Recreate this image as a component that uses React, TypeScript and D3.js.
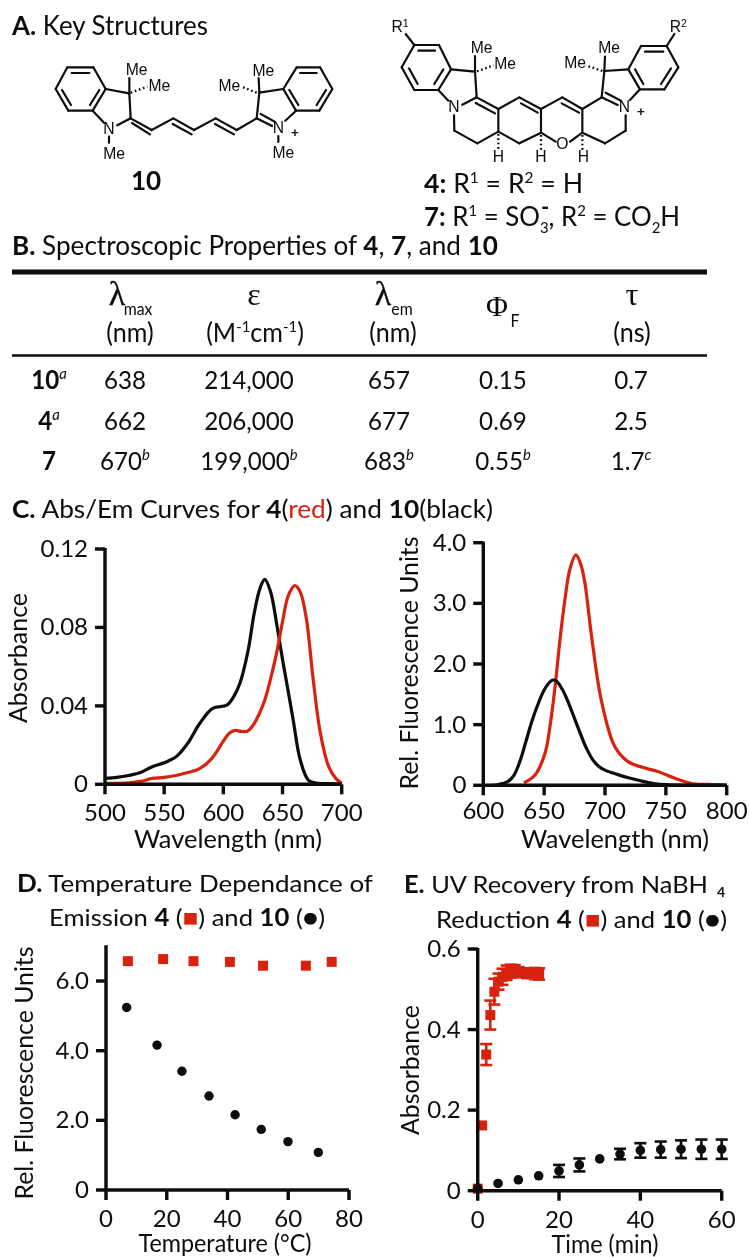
import { curveCatmullRom, line, scaleLinear } from "d3";
import type { ReactNode } from "react";

const FONT = "Lato, 'Open Sans', sans-serif";
const RED = "#d8230f";
const BLACK = "#0a0a0a";

// panel C left, absorbance
const absWave10 = [500, 510, 520, 530, 540, 550, 560, 570, 580, 591, 603, 609, 614, 621, 626, 631, 635, 640, 645, 650, 655, 659, 665, 672, 680, 690, 700];
const absVal10 = [0.003, 0.0035, 0.0045, 0.006, 0.009, 0.011, 0.014, 0.021, 0.031, 0.0387, 0.0404, 0.045, 0.0515, 0.0685, 0.087, 0.1, 0.1045, 0.098, 0.082, 0.0637, 0.0467, 0.0328, 0.0124, 0.002, 0.0005, 0.0003, 0.0003];
const absWave4 = [500, 520, 530, 540, 550, 560, 570, 580, 590, 600, 605, 610, 615, 620, 625, 630, 635, 640, 645, 650, 655, 660.5, 665, 670, 676, 682, 689, 695, 700];
const absVal4 = [0.0005, 0.0008, 0.0015, 0.003, 0.0035, 0.0045, 0.006, 0.008, 0.013, 0.022, 0.026, 0.0275, 0.027, 0.027, 0.03, 0.0355, 0.043, 0.054, 0.067, 0.083, 0.0965, 0.1013, 0.098, 0.085, 0.053, 0.026, 0.009, 0.003, 0.0005];

// panel C right, emission
const emWave10 = [607, 612, 620, 625, 630, 635, 640, 645, 650, 655, 657.5, 660, 665, 670, 675, 680, 685, 690, 695, 700, 710, 720, 730, 740, 750, 770, 800];
const emVal10 = [0, 0.01, 0.06, 0.16, 0.39, 0.72, 1.06, 1.34, 1.57, 1.71, 1.736, 1.72, 1.58, 1.36, 1.1, 0.84, 0.6, 0.42, 0.31, 0.25, 0.18, 0.12, 0.07, 0.03, 0.01, 0, 0];
const emWave4 = [633.4, 642.5, 650.7, 655, 659, 663, 667, 671, 676, 680, 683.5, 689, 697, 708, 719, 730, 744, 757.5, 771, 785, 800];
const emVal4 = [0.04, 0.17, 0.53, 1.0, 1.63, 2.4, 3.05, 3.55, 3.8, 3.65, 3.33, 2.45, 1.4, 0.64, 0.39, 0.3, 0.225, 0.115, 0.03, 0.015, 0.005];

// panel D
const tempX4 = [7.2, 18.8, 28.8, 40.8, 51.7, 65.8, 74.3];
const tempY4 = [6.57, 6.63, 6.57, 6.55, 6.44, 6.44, 6.55];
const tempX10 = [6.8, 16.8, 25, 33.9, 42.5, 51.1, 59.9, 69.9];
const tempY10 = [5.24, 4.16, 3.41, 2.7, 2.16, 1.74, 1.39, 1.08];

// panel E
const timeX4 = [0, 1.1, 2.1, 3.1, 4.1, 5.1, 6.1, 7.1, 8.1, 9.1, 10.1, 11.1, 12.1, 13.1, 14.1, 15.1];
const timeY4 = [0.005, 0.162, 0.338, 0.436, 0.494, 0.519, 0.531, 0.541, 0.545, 0.545, 0.543, 0.541, 0.54, 0.54, 0.539, 0.538];
const timeE4 = [0, 0, 0.026, 0.036, 0.032, 0.02, 0.02, 0.018, 0.016, 0.015, 0.012, 0.01, 0.012, 0.012, 0.014, 0.014];
const timeX10 = [0, 5, 10, 15, 20, 25, 30, 35, 40, 45, 50, 55, 60];
const timeY10 = [0.006, 0.018, 0.027, 0.037, 0.049, 0.064, 0.079, 0.091, 0.1, 0.102, 0.103, 0.103, 0.103];
const timeE10 = [0, 0, 0, 0, 0.015, 0.016, 0, 0.013, 0.018, 0.02, 0.022, 0.024, 0.024];

// table
const rowNames = ["10", "4", "7"];
const rowNameMarks = ["a", "a", ""];
const colX = [125, 249, 389, 503, 631];
const tableRows = [
  ["638", "214,000", "657", "0.15", "0.7"],
  ["662", "206,000", "677", "0.69", "2.5"],
  ["670", "199,000", "683", "0.55", "1.7"],
];
const tableMarks = [
  ["", "", "", "", ""],
  ["", "", "", "", ""],
  ["b", "b", "b", "b", "c"],
];
const rowBase = [389, 430, 470];

// structure drawings, in 3x px of their crop
const cy10Bonds = [
  [82, 52, 160, 52], [160, 52, 197, 117], [197, 117, 158, 182], [158, 182, 85, 182], [85, 182, 47, 117], [47, 117, 82, 52],
  [95, 69, 148, 69], [178, 120, 150, 165], [93, 165, 66, 120],
  [197, 117, 268, 130], [268, 130, 272, 205], [268, 130, 268, 84], [272, 205, 232, 226], [158, 182, 192, 218],
  [272, 205, 335, 240], [276, 219, 330, 253], [335, 240, 400, 205], [400, 205, 462, 240], [398, 222, 455, 253],
  [462, 240, 527, 205], [527, 205, 590, 240], [525, 222, 582, 253], [590, 240, 650, 205],
  [650, 205, 696, 228], [662, 192, 704, 215], [650, 205, 658, 128], [658, 128, 730, 117], [658, 128, 656, 84],
  [730, 117, 770, 52], [770, 52, 840, 52], [840, 52, 877, 117], [877, 117, 838, 182], [838, 182, 768, 182], [768, 182, 730, 117],
  [780, 69, 830, 69], [858, 120, 830, 165], [748, 120, 775, 165], [768, 182, 736, 212],
  [207, 260, 207, 278], [715, 258, 715, 276],
];
const cy10Hash = [[272, 128, 322, 110], [650, 128, 604, 110]];
const cy10Text: [string, number, number][] = [["Me", 290, 75], ["Me", 358, 122], ["N", 207, 251], ["Me", 222, 327], ["Me", 670, 78], ["Me", 568, 122], ["N", 715, 250], ["Me", 730, 325]];

const cy4Bonds = [
  [88, 105, 162, 105], [162, 105, 198, 178], [198, 178, 160, 240], [160, 240, 88, 240], [88, 240, 50, 172], [50, 172, 88, 105],
  [100, 122, 150, 122], [175, 178, 148, 222], [98, 222, 72, 175], [88, 105, 62, 72],
  [198, 178, 270, 185], [270, 185, 275, 262], [270, 185, 270, 138], [160, 240, 190, 272], [275, 262, 232, 284],
  [275, 262, 340, 297], [272, 279, 330, 310], [340, 297, 403, 262], [403, 262, 468, 297], [408, 280, 458, 308],
  [468, 297, 532, 262], [532, 262, 592, 297], [530, 280, 582, 308], [592, 297, 650, 262],
  [340, 297, 340, 365], [468, 297, 468, 368], [592, 297, 592, 368],
  [340, 365, 403, 400], [403, 400, 468, 368], [468, 368, 512, 395], [555, 395, 592, 368],
  [340, 365, 277, 400], [277, 400, 208, 362], [208, 362, 207, 316],
  [592, 368, 660, 400], [660, 400, 722, 362], [722, 362, 722, 316],
  [650, 262, 698, 285], [662, 248, 708, 272], [650, 262, 658, 183], [658, 183, 730, 178], [658, 183, 660, 140],
  [730, 178, 768, 108], [768, 108, 845, 108], [845, 108, 880, 172], [880, 172, 838, 238], [838, 238, 765, 238], [765, 238, 730, 178],
  [780, 125, 835, 125], [858, 175, 828, 222], [750, 178, 775, 222], [765, 238, 735, 270], [845, 108, 868, 72],
];
const cy4Hash = [[276, 184, 326, 166], [652, 183, 602, 166], [340, 372, 340, 420], [468, 375, 468, 420], [592, 375, 592, 420]];
const cy4Text: [string, number, number][] = [["Me", 290, 130], ["Me", 360, 178], ["N", 207, 307], ["H", 340, 456], ["H", 468, 456], ["H", 595, 456], ["O", 532, 418], ["N", 718, 305], ["Me", 672, 130], ["Me", 570, 175]];

function Structure({ x, y, bonds, hashes, labels, children }: { x: number; y: number; bonds: number[][]; hashes: number[][]; labels: [string, number, number][]; children?: ReactNode }) {
  return (
    <g transform={`translate(${x},${y}) scale(${1 / 3})`} stroke={BLACK} fill="none" strokeLinecap="round">
      {bonds.map((b, i) => <line key={i} x1={b[0]} y1={b[1]} x2={b[2]} y2={b[3]} strokeWidth={6.5} />)}
      {hashes.map((b, i) => <line key={i} x1={b[0]} y1={b[1]} x2={b[2]} y2={b[3]} strokeWidth={7} strokeDasharray="5 8" strokeLinecap="butt" />)}
      <g fontFamily="'Liberation Sans', sans-serif" fontSize={47} fill={BLACK} stroke="none" textAnchor="middle">
        {labels.map((t, i) => <text key={i} x={t[1]} y={t[2]}>{t[0]}</text>)}
        {children}
      </g>
    </g>
  );
}

function Panel({ xDomain, xRange, yDomain, yRange, xTicks, yTicks, xLabels, yLabels, labelDy = 37, children }: {
  xDomain: number[]; xRange: number[]; yDomain: number[]; yRange: number[]; xTicks: number[]; yTicks: number[]; xLabels: string[]; yLabels: string[]; labelDy?: number;
  children: (x: any, y: any) => ReactNode;
}) {
  const x = scaleLinear().domain(xDomain).range(xRange);
  const y = scaleLinear().domain(yDomain).range(yRange);
  return (
    <g>
      {children(x, y)}
      <g stroke={BLACK} strokeWidth={3.4} fill="none">
        <line x1={x(xDomain[0])} x2={x(xDomain[1])} y1={y(0)} y2={y(0)} />
        <line x1={x(xDomain[0])} x2={x(xDomain[0])} y1={y(0) + 1} y2={y(yDomain[1]) - 1} />
        {xTicks.map((t) => <line key={t} x1={x(t)} x2={x(t)} y1={y(0)} y2={y(0) + 10} />)}
        {yTicks.map((t) => <line key={t} x1={x(xDomain[0]) - 10} x2={x(xDomain[0])} y1={y(t)} y2={y(t)} />)}
      </g>
      <g fontFamily={FONT} fontSize={24} fill={BLACK}>
        {xTicks.map((t, i) => <text key={t} x={x(t)} y={y(0) + labelDy} textAnchor="middle">{xLabels[i]}</text>)}
        {yTicks.map((t, i) => <text key={t} x={x(xDomain[0]) - 17} y={y(t) + 8} textAnchor="end">{yLabels[i]}</text>)}
      </g>
    </g>
  );
}

function curve(x: any, y: any, xs: number[], ys: number[]) {
  const pts = xs.map((v, i) => [x(v), y(ys[i])] as [number, number]);
  return line().curve(curveCatmullRom.alpha(0.5))(pts) ?? "";
}

function Title({ x, y, width, size = 24, children }: { x: number; y: number; width?: number; size?: number; children: ReactNode }) {
  return (
    <text x={x} y={y} fontFamily={FONT} fontSize={size} fill={BLACK} textLength={width} lengthAdjust={width ? "spacingAndGlyphs" : undefined}>
      {children}
    </text>
  );
}

function Axis({ x, y, rotate, width, size = 25, children }: { x: number; y: number; rotate?: boolean; width: number; size?: number; children: string }) {
  return (
    <text transform={`translate(${x},${y})${rotate ? " rotate(-90)" : ""}`} textAnchor="middle" fontFamily={FONT} fontSize={size} fill={BLACK} textLength={width} lengthAdjust="spacingAndGlyphs">
      {children}
    </text>
  );
}

// table text is taller and narrower than Lato, so squeeze it a bit
function Cell({ x, y, size = 26, bold, children }: { x: number; y: number; size?: number; bold?: boolean; children: ReactNode }) {
  return <text transform={`translate(${x},${y}) scale(0.93,1)`} textAnchor="middle" fontFamily={FONT} fontSize={size} fontWeight={bold ? 700 : 400} fill={BLACK}>{children}</text>;
}

const B = ({ children }: { children: ReactNode }) => <tspan fontWeight={700}>{children}</tspan>;

export default function App() {
  return (
    <svg width={749} height={1257} style={{ position: "absolute", left: 0, top: 0 }}>
      <defs>
        <filter id="soft" x="0" y="0" width="100%" height="100%">
          <feGaussianBlur stdDeviation={0.5} />
        </filter>
      </defs>
      <rect width={749} height={1257} fill="#fff" />
      <g filter="url(#soft)">
        {/* A */}
        <Title x={12} y={35} width={196} size={26}><B>A.</B> Key Structures</Title>
        <Structure x={40} y={50} bonds={cy10Bonds} hashes={cy10Hash} labels={cy10Text}>
          <text x={765} y={262} fontSize={40} fontWeight={700}>+</text>
        </Structure>
        <text x={146} y={190} textAnchor="middle" fontFamily={FONT} fontSize={26} fontWeight={700} fill={BLACK}>10</text>
        <Structure x={385} y={10} bonds={cy4Bonds} hashes={cy4Hash} labels={cy4Text}>
          <text x={45} y={66}>R<tspan fontSize={32} dy={-16}>1</tspan></text>
          <text x={880} y={66}>R<tspan fontSize={32} dy={-16}>2</tspan></text>
          <text x={768} y={318} fontSize={40} fontWeight={700}>+</text>
        </Structure>
        <Title x={424} y={193} width={159} size={26}><B>4:</B> R<tspan fontSize={15} dy={-10}>1</tspan><tspan dy={10}> = R</tspan><tspan fontSize={15} dy={-10}>2</tspan><tspan dy={10}> = H</tspan></Title>
        <Title x={424} y={226} width={256} size={26}><B>7:</B> R<tspan fontSize={15} dy={-10}>1</tspan><tspan dy={10}> = SO</tspan><tspan fontSize={15} dy={7}>3</tspan><tspan dy={-7}>, R</tspan><tspan fontSize={15} dy={-10}>2</tspan><tspan dy={10}> = CO</tspan><tspan fontSize={15} dy={7}>2</tspan><tspan dy={-7}>H</tspan></Title>
        <text x={541} y={215} fontFamily={FONT} fontSize={22} fontWeight={700} fill={BLACK}>-</text>

        {/* B */}
        <Title x={12} y={255} width={486} size={26}><B>B.</B> Spectroscopic Properties of <B>4</B>, <B>7</B>, and <B>10</B></Title>
        <line x1={12} x2={707} y1={272} y2={272} stroke={BLACK} strokeWidth={5} />
        <line x1={12} x2={707} y1={355.5} y2={355.5} stroke={BLACK} strokeWidth={2.5} />
        <g fontFamily="'Liberation Serif', serif" fill={BLACK} textAnchor="middle">
          <text x={117} y={305} fontSize={34} stroke={BLACK} strokeWidth={0.3}>λ</text>
          <text x={254} y={305} fontSize={32}>ε</text>
          <text x={383} y={305} fontSize={34} stroke={BLACK} strokeWidth={0.3}>λ</text>
          <text x={497} y={316} fontSize={30}>Φ</text>
          <text x={632} y={305} fontSize={32}>τ</text>
        </g>
        <Cell x={138} y={315} size={17}>max</Cell>
        <Cell x={402} y={315} size={17}>em</Cell>
        <Cell x={515} y={327} size={17}>F</Cell>
        <Cell x={130} y={342} size={27}>(nm)</Cell>
        <Cell x={393} y={342} size={27}>(nm)</Cell>
        <Cell x={632} y={342} size={27}>(ns)</Cell>
        <Cell x={255} y={342} size={27}>(M<tspan fontSize={16} dy={-10}>-1</tspan><tspan dy={10}>cm</tspan><tspan fontSize={16} dy={-10}>-1</tspan><tspan dy={10}>)</tspan></Cell>
        {rowNames.map((n, r) => (
          <Cell key={n} x={49} y={rowBase[r]} bold>{n}<tspan fontSize={16} dy={-10} fontWeight={400} fontStyle="italic">{rowNameMarks[r]}</tspan></Cell>
        ))}
        {tableRows.map((row, r) => row.map((v, c) => (
          <Cell key={`${r}-${c}`} x={colX[c]} y={rowBase[r]}>{v}<tspan fontSize={16} dy={-10} fontStyle="italic">{tableMarks[r][c]}</tspan></Cell>
        )))}

        {/* C */}
        <Title x={12} y={518} width={481} size={25}><B>C.</B> Abs/Em Curves for <B>4</B>(<tspan fill={RED}>red</tspan>) and <B>10</B>(black)</Title>
        <Panel xDomain={[500, 700]} xRange={[105, 341.7]} yDomain={[0, 0.12]} yRange={[784.3, 549]} xTicks={[500, 550, 600, 650, 700]} yTicks={[0, 0.04, 0.08, 0.12]} xLabels={["500", "550", "600", "650", "700"]} yLabels={["0", "0.04", "0.08", "0.12"]}>
          {(x, y) => (
            <g fill="none" strokeWidth={3.2}>
              <path d={curve(x, y, absWave10, absVal10)} stroke={BLACK} />
              <path d={curve(x, y, absWave4, absVal4)} stroke={RED} />
            </g>
          )}
        </Panel>
        <Axis x={27} y={658} rotate width={130}>Absorbance</Axis>
        <Axis x={228} y={848} width={188}>Wavelength (nm)</Axis>

        <Panel xDomain={[600, 800]} xRange={[483.3, 726.7]} yDomain={[0, 4]} yRange={[785.3, 542.7]} xTicks={[600, 650, 700, 750, 800]} yTicks={[0, 1, 2, 3, 4]} xLabels={["600", "650", "700", "750", "800"]} yLabels={["0", "1.0", "2.0", "3.0", "4.0"]} labelDy={34}>
          {(x, y) => (
            <g fill="none" strokeWidth={3.2}>
              <path d={curve(x, y, emWave4, emVal4)} stroke={RED} />
              <path d={curve(x, y, emWave10, emVal10)} stroke={BLACK} />
            </g>
          )}
        </Panel>
        <Axis x={418} y={663} rotate width={253}>Rel. Fluorescence Units</Axis>
        <Axis x={615} y={848} width={188}>Wavelength (nm)</Axis>

        {/* D */}
        <Title x={17} y={892} width={356}><B>D.</B> Temperature Dependance of</Title>
        <Title x={49} y={926} width={276}>Emission <B>4</B> (<tspan fill={RED}>■</tspan>) and <B>10</B> (●)</Title>
        <Panel xDomain={[0, 80]} xRange={[106, 349]} yDomain={[0, 7]} yRange={[1190, 946.2]} xTicks={[0, 20, 40, 60, 80]} yTicks={[0, 2, 4, 6]} xLabels={["0", "20", "40", "60", "80"]} yLabels={["0", "2.0", "4.0", "6.0"]}>
          {(x, y) => (
            <g>
              {tempX4.map((v, i) => <rect key={v} x={x(v) - 5} y={y(tempY4[i]) - 5} width={10} height={10} fill={RED} />)}
              {tempX10.map((v, i) => <circle key={v} cx={x(v)} cy={y(tempY10[i])} r={4.7} fill={BLACK} />)}
            </g>
          )}
        </Panel>
        <Axis x={33} y={1073} rotate width={253}>Rel. Fluorescence Units</Axis>
        <Axis x={225} y={1252} width={173}>Temperature (°C)</Axis>

        {/* E */}
        <Title x={404} y={893} width={304}><B>E.</B> UV Recovery from NaBH</Title>
        <text x={721} y={897} textAnchor="middle" fontFamily={FONT} fontWeight={700} fontSize={14} fill={BLACK}>4</text>
        <Title x={436} y={928} width={291}>Reduction <B>4</B> (<tspan fill={RED}>■</tspan>) and <B>10</B> (●)</Title>
        <Panel xDomain={[0, 60]} xRange={[477.7, 721.7]} yDomain={[0, 0.6]} yRange={[1190.7, 949]} xTicks={[0, 20, 40, 60]} yTicks={[0, 0.2, 0.4, 0.6]} xLabels={["0", "20", "40", "60"]} yLabels={["0", "0.2", "0.4", "0.6"]}>
          {(x, y) => (
            <g>
              <g stroke={RED} strokeWidth={2.6}>
                {timeX4.map((v, i) => timeE4[i] > 0 && (
                  <g key={v}>
                    <line x1={x(v)} x2={x(v)} y1={y(timeY4[i] - timeE4[i])} y2={y(timeY4[i] + timeE4[i])} />
                    <line x1={x(v) - 6} x2={x(v) + 6} y1={y(timeY4[i] - timeE4[i])} y2={y(timeY4[i] - timeE4[i])} />
                    <line x1={x(v) - 6} x2={x(v) + 6} y1={y(timeY4[i] + timeE4[i])} y2={y(timeY4[i] + timeE4[i])} />
                  </g>
                ))}
              </g>
              {timeX4.map((v, i) => <rect key={v} x={x(v) - 5} y={y(timeY4[i]) - 5} width={10} height={10} fill={RED} />)}
              <g stroke={BLACK} strokeWidth={2.6}>
                {timeX10.map((v, i) => timeE10[i] > 0 && (
                  <g key={v}>
                    <line x1={x(v)} x2={x(v)} y1={y(timeY10[i] - timeE10[i])} y2={y(timeY10[i] + timeE10[i])} />
                    <line x1={x(v) - 6} x2={x(v) + 6} y1={y(timeY10[i] - timeE10[i])} y2={y(timeY10[i] - timeE10[i])} />
                    <line x1={x(v) - 6} x2={x(v) + 6} y1={y(timeY10[i] + timeE10[i])} y2={y(timeY10[i] + timeE10[i])} />
                  </g>
                ))}
              </g>
              {timeX10.map((v, i) => <circle key={v} cx={x(v)} cy={y(timeY10[i])} r={4.8} fill={BLACK} />)}
            </g>
          )}
        </Panel>
        <Axis x={419} y={1070} rotate width={130}>Absorbance</Axis>
        <Axis x={605} y={1253} width={107}>Time (min)</Axis>
      </g>
    </svg>
  );
}
